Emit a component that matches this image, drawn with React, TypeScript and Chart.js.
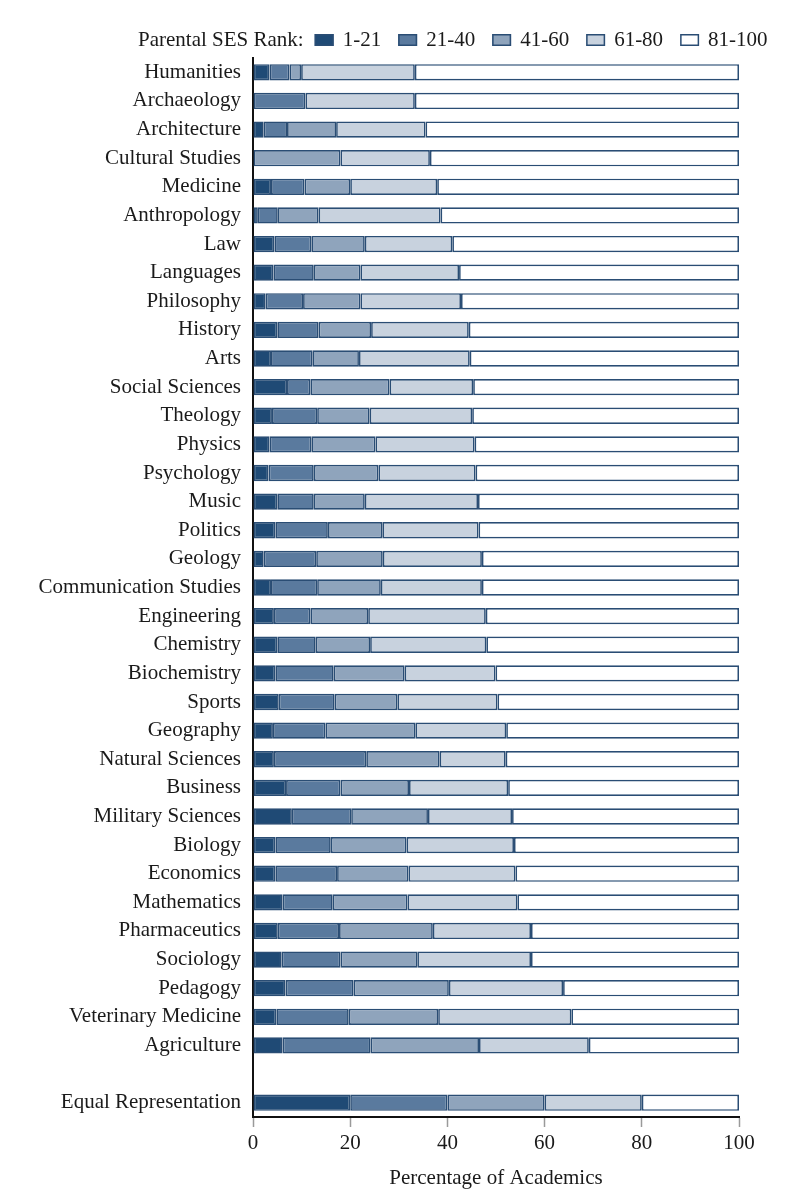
import React, { useEffect, useRef } from 'react';
import { Chart, registerables } from 'chart.js';

Chart.register(...registerables);

const subjects = [
  'Humanities', 'Archaeology', 'Architecture', 'Cultural Studies', 'Medicine',
  'Anthropology', 'Law', 'Languages', 'Philosophy', 'History', 'Arts',
  'Social Sciences', 'Theology', 'Physics', 'Psychology', 'Music', 'Politics',
  'Geology', 'Communication Studies', 'Engineering', 'Chemistry', 'Biochemistry',
  'Sports', 'Geography', 'Natural Sciences', 'Business', 'Military Sciences',
  'Biology', 'Economics', 'Mathematics', 'Pharmaceutics', 'Sociology',
  'Pedagogy', 'Veterinary Medicine', 'Agriculture', '', 'Equal Representation',
];

const rankLabels = ['1-21', '21-40', '41-60', '61-80', '81-100'];

// share of academics per parental SES band (percent), null = spacer row
const rank1to21 = [3.4, 0, 2.2, 0, 3.7, 1.0, 4.4, 4.2, 2.6, 5.0, 3.7, 7.0, 3.9, 3.4, 3.2, 5.0, 4.6, 2.2, 3.7, 4.3, 5.0, 4.6, 5.3, 4.1, 4.3, 6.8, 8.0, 4.6, 4.6, 6.1, 5.1, 5.9, 6.7, 4.8, 6.1, null, 20];
const rank21to40 = [4.1, 10.8, 4.8, 0, 6.9, 4.1, 7.6, 8.3, 7.7, 8.5, 8.5, 4.8, 9.3, 8.6, 9.3, 7.5, 10.8, 10.8, 9.5, 7.5, 7.9, 12.0, 11.5, 10.8, 19.0, 11.2, 12.2, 11.4, 12.7, 10.3, 12.6, 12.1, 14.0, 14.9, 18.1, null, 20];
const rank41to60 = [2.4, 0, 10.1, 18.0, 9.4, 8.4, 11.0, 9.6, 11.8, 10.8, 9.6, 16.3, 10.8, 13.2, 13.3, 10.5, 11.2, 13.7, 13.1, 11.9, 11.2, 14.6, 12.9, 18.5, 15.1, 14.1, 15.8, 15.6, 14.7, 15.4, 19.3, 15.8, 19.6, 18.4, 22.3, null, 20];
const rank61to80 = [23.4, 22.5, 18.4, 18.4, 17.9, 25.1, 18.0, 20.3, 20.7, 20.1, 22.8, 17.2, 21.1, 20.4, 20.0, 23.3, 19.8, 20.4, 20.8, 24.2, 23.9, 18.7, 20.6, 18.7, 13.6, 20.4, 17.3, 22.1, 22.0, 22.6, 20.2, 23.4, 23.5, 27.4, 22.6, null, 20];
const rank81to100 = [66.7, 66.7, 64.5, 63.6, 62.1, 61.4, 59.0, 57.6, 57.2, 55.6, 55.4, 54.7, 54.9, 54.4, 54.2, 53.7, 53.6, 52.9, 52.9, 52.1, 52.0, 50.1, 49.7, 47.9, 48.0, 47.5, 46.7, 46.3, 46.0, 45.6, 42.8, 42.8, 36.2, 34.5, 30.9, null, 20];

const xTicks = [0, 20, 40, 60, 80, 100];

const fills = ['#1f4a75', '#5a7a9e', '#8fa4bc', '#c8d2de', '#ffffff'];
const FONT = '"Liberation Serif", "Times New Roman", serif';

const legendPlugin = {
  id: 'sesLegend',
  afterDraw(chart: Chart) {
    const ctx = chart.ctx;
    ctx.save();
    ctx.font = `21px ${FONT}`;
    ctx.fillStyle = '#1a1a1a';
    ctx.textBaseline = 'middle';
    const y = 40;
    let x = 138;
    ctx.fillText('Parental SES Rank:', x, y);
    x += ctx.measureText('Parental SES Rank:').width + 11;
    chart.data.datasets.forEach((ds: any) => {
      ctx.fillStyle = ds.backgroundColor;
      ctx.fillRect(x, y - 6, 19, 12);
      ctx.strokeStyle = '#2a4d74';
      ctx.lineWidth = 1.5;
      ctx.strokeRect(x + 0.75, y - 5.25, 17.5, 10.5);
      x += 19 + 9;
      ctx.fillStyle = '#1a1a1a';
      ctx.fillText(ds.label, x, y);
      x += ctx.measureText(ds.label).width + 17;
    });
    ctx.restore();
  },
};

const App: React.FC = () => {
  const canvasRef = useRef<HTMLCanvasElement | null>(null);

  useEffect(() => {
    document.body.style.margin = '0';
    document.body.style.overflow = 'hidden';
    if (!canvasRef.current) return;

    const series = [rank1to21, rank21to40, rank41to60, rank61to80, rank81to100];

    const chart = new Chart(canvasRef.current, {
      type: 'bar',
      data: {
        labels: subjects,
        datasets: series.map((values, i) => ({
          label: rankLabels[i],
          data: values,
          backgroundColor: fills[i],
          borderColor: '#2a4d74',
          borderWidth: 1.7,
          borderSkipped: false,
          categoryPercentage: 1,
          barPercentage: 0.57,
        })),
      },
      options: {
        indexAxis: 'y',
        animation: false,
        responsive: false,
        devicePixelRatio: 1,
        layout: { padding: { top: 58, right: 69, left: 0, bottom: 0 } },
        plugins: {
          legend: { display: false },
          tooltip: { enabled: false },
        },
        scales: {
          x: {
            stacked: true,
            min: 0,
            max: 100,
            afterBuildTicks: (scale: any) => {
              scale.ticks = xTicks.map((v) => ({ value: v }));
            },
            afterFit: (scale: any) => {
              scale.height = 83;
            },
            grid: {
              display: true,
              drawOnChartArea: false,
              drawTicks: true,
              tickLength: 10,
              tickColor: '#9a9a9a',
              tickWidth: 1.5,
            },
            border: { display: true, color: '#111', width: 2 },
            ticks: {
              color: '#1a1a1a',
              font: { family: FONT, size: 21 },
              padding: 4,
              maxRotation: 0,
            },
            title: {
              display: true,
              text: 'Percentage of Academics',
              color: '#1a1a1a',
              font: { family: FONT, size: 21 },
              padding: { top: 6, bottom: 9 },
            },
          },
          y: {
            stacked: true,
            afterFit: (scale: any) => {
              scale.width = 253;
            },
            grid: { display: false, drawTicks: false },
            border: { display: true, color: '#111', width: 2 },
            ticks: {
              color: '#1a1a1a',
              font: { family: FONT, size: 21 },
              padding: 12,
              autoSkip: false,
            },
          },
        },
      },
      plugins: [legendPlugin],
    });

    return () => {
      chart.destroy();
    };
  }, []);

  return <canvas ref={canvasRef} width={808} height={1200} />;
};

export default App;
